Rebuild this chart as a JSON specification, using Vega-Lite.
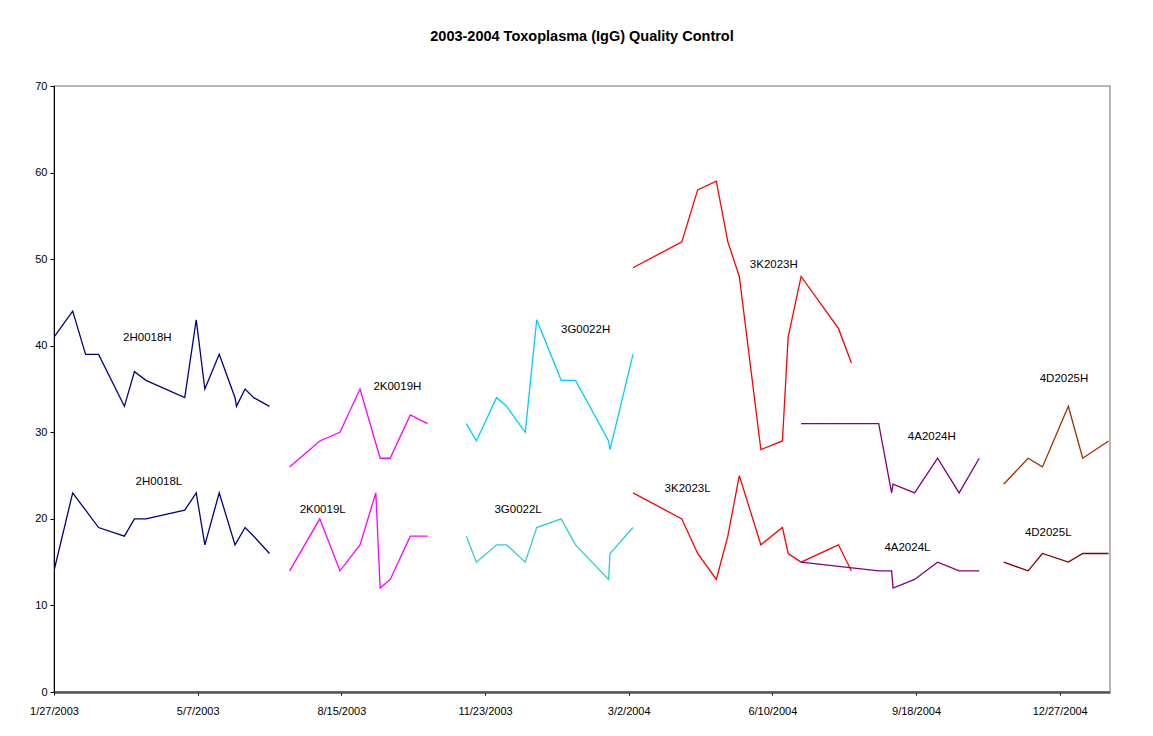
{
  "$schema": "https://vega.github.io/schema/vega-lite/v6.json",
  "width": 1056,
  "height": 606,
  "autosize": {"type": "none"},
  "padding": {"left": 54, "top": 86, "right": 43, "bottom": 44},
  "background": "white",
  "title": {
    "text": "2003-2004 Toxoplasma (IgG) Quality Control",
    "font": "Liberation Sans",
    "fontSize": 14.5,
    "fontWeight": "bold",
    "color": "black",
    "anchor": "middle",
    "offset": 36
  },
  "datasets": {
    "qc": [
      {"series": "2H0018H", "date": "2003-01-27", "value": 41},
      {"series": "2H0018H", "date": "2003-02-09", "value": 44},
      {"series": "2H0018H", "date": "2003-02-18", "value": 39},
      {"series": "2H0018H", "date": "2003-02-27", "value": 39},
      {"series": "2H0018H", "date": "2003-03-17", "value": 33},
      {"series": "2H0018H", "date": "2003-03-24", "value": 37},
      {"series": "2H0018H", "date": "2003-04-01", "value": 36},
      {"series": "2H0018H", "date": "2003-04-28", "value": 34},
      {"series": "2H0018H", "date": "2003-05-06", "value": 43},
      {"series": "2H0018H", "date": "2003-05-12", "value": 35},
      {"series": "2H0018H", "date": "2003-05-22", "value": 39},
      {"series": "2H0018H", "date": "2003-06-02", "value": 34},
      {"series": "2H0018H", "date": "2003-06-03", "value": 33},
      {"series": "2H0018H", "date": "2003-06-09", "value": 35},
      {"series": "2H0018H", "date": "2003-06-15", "value": 34},
      {"series": "2H0018H", "date": "2003-06-26", "value": 33},
      {"series": "2H0018L", "date": "2003-01-27", "value": 14},
      {"series": "2H0018L", "date": "2003-02-09", "value": 23},
      {"series": "2H0018L", "date": "2003-02-18", "value": 21},
      {"series": "2H0018L", "date": "2003-02-27", "value": 19},
      {"series": "2H0018L", "date": "2003-03-17", "value": 18},
      {"series": "2H0018L", "date": "2003-03-24", "value": 20},
      {"series": "2H0018L", "date": "2003-04-01", "value": 20},
      {"series": "2H0018L", "date": "2003-04-28", "value": 21},
      {"series": "2H0018L", "date": "2003-05-06", "value": 23},
      {"series": "2H0018L", "date": "2003-05-12", "value": 17},
      {"series": "2H0018L", "date": "2003-05-22", "value": 23},
      {"series": "2H0018L", "date": "2003-06-02", "value": 17},
      {"series": "2H0018L", "date": "2003-06-09", "value": 19},
      {"series": "2H0018L", "date": "2003-06-15", "value": 18},
      {"series": "2H0018L", "date": "2003-06-26", "value": 16},
      {"series": "2K0019H", "date": "2003-07-10", "value": 26},
      {"series": "2K0019H", "date": "2003-07-31", "value": 29},
      {"series": "2K0019H", "date": "2003-08-14", "value": 30},
      {"series": "2K0019H", "date": "2003-08-28", "value": 35},
      {"series": "2K0019H", "date": "2003-09-11", "value": 27},
      {"series": "2K0019H", "date": "2003-09-18", "value": 27},
      {"series": "2K0019H", "date": "2003-10-02", "value": 32},
      {"series": "2K0019H", "date": "2003-10-14", "value": 31},
      {"series": "2K0019L", "date": "2003-07-10", "value": 14},
      {"series": "2K0019L", "date": "2003-07-31", "value": 20},
      {"series": "2K0019L", "date": "2003-08-14", "value": 14},
      {"series": "2K0019L", "date": "2003-08-28", "value": 17},
      {"series": "2K0019L", "date": "2003-09-08", "value": 23},
      {"series": "2K0019L", "date": "2003-09-11", "value": 12},
      {"series": "2K0019L", "date": "2003-09-18", "value": 13},
      {"series": "2K0019L", "date": "2003-10-02", "value": 18},
      {"series": "2K0019L", "date": "2003-10-14", "value": 18},
      {"series": "3G0022H", "date": "2003-11-10", "value": 31},
      {"series": "3G0022H", "date": "2003-11-17", "value": 29},
      {"series": "3G0022H", "date": "2003-12-01", "value": 34},
      {"series": "3G0022H", "date": "2003-12-08", "value": 33},
      {"series": "3G0022H", "date": "2003-12-21", "value": 30},
      {"series": "3G0022H", "date": "2003-12-29", "value": 43},
      {"series": "3G0022H", "date": "2004-01-15", "value": 36},
      {"series": "3G0022H", "date": "2004-01-25", "value": 36},
      {"series": "3G0022H", "date": "2004-02-17", "value": 29},
      {"series": "3G0022H", "date": "2004-02-18", "value": 28},
      {"series": "3G0022H", "date": "2004-03-05", "value": 39},
      {"series": "3G0022L", "date": "2003-11-10", "value": 18},
      {"series": "3G0022L", "date": "2003-11-17", "value": 15},
      {"series": "3G0022L", "date": "2003-12-01", "value": 17},
      {"series": "3G0022L", "date": "2003-12-08", "value": 17},
      {"series": "3G0022L", "date": "2003-12-21", "value": 15},
      {"series": "3G0022L", "date": "2003-12-29", "value": 19},
      {"series": "3G0022L", "date": "2004-01-15", "value": 20},
      {"series": "3G0022L", "date": "2004-01-25", "value": 17},
      {"series": "3G0022L", "date": "2004-02-17", "value": 13},
      {"series": "3G0022L", "date": "2004-02-18", "value": 16},
      {"series": "3G0022L", "date": "2004-03-05", "value": 19},
      {"series": "3K2023H", "date": "2004-03-05", "value": 49},
      {"series": "3K2023H", "date": "2004-04-08", "value": 52},
      {"series": "3K2023H", "date": "2004-04-19", "value": 58},
      {"series": "3K2023H", "date": "2004-05-02", "value": 59},
      {"series": "3K2023H", "date": "2004-05-10", "value": 52},
      {"series": "3K2023H", "date": "2004-05-18", "value": 48},
      {"series": "3K2023H", "date": "2004-06-02", "value": 28},
      {"series": "3K2023H", "date": "2004-06-17", "value": 29},
      {"series": "3K2023H", "date": "2004-06-21", "value": 41},
      {"series": "3K2023H", "date": "2004-06-30", "value": 48},
      {"series": "3K2023H", "date": "2004-07-26", "value": 42},
      {"series": "3K2023H", "date": "2004-08-04", "value": 38},
      {"series": "3K2023L", "date": "2004-03-05", "value": 23},
      {"series": "3K2023L", "date": "2004-04-08", "value": 20},
      {"series": "3K2023L", "date": "2004-04-19", "value": 16},
      {"series": "3K2023L", "date": "2004-05-02", "value": 13},
      {"series": "3K2023L", "date": "2004-05-10", "value": 18},
      {"series": "3K2023L", "date": "2004-05-18", "value": 25},
      {"series": "3K2023L", "date": "2004-06-02", "value": 17},
      {"series": "3K2023L", "date": "2004-06-17", "value": 19},
      {"series": "3K2023L", "date": "2004-06-21", "value": 16},
      {"series": "3K2023L", "date": "2004-06-30", "value": 15},
      {"series": "3K2023L", "date": "2004-07-26", "value": 17},
      {"series": "3K2023L", "date": "2004-08-04", "value": 14},
      {"series": "4A2024H", "date": "2004-06-30", "value": 31},
      {"series": "4A2024H", "date": "2004-08-23", "value": 31},
      {"series": "4A2024H", "date": "2004-09-01", "value": 23},
      {"series": "4A2024H", "date": "2004-09-02", "value": 24},
      {"series": "4A2024H", "date": "2004-09-17", "value": 23},
      {"series": "4A2024H", "date": "2004-10-03", "value": 27},
      {"series": "4A2024H", "date": "2004-10-18", "value": 23},
      {"series": "4A2024H", "date": "2004-11-01", "value": 27},
      {"series": "4A2024L", "date": "2004-06-30", "value": 15},
      {"series": "4A2024L", "date": "2004-08-23", "value": 14},
      {"series": "4A2024L", "date": "2004-09-01", "value": 14},
      {"series": "4A2024L", "date": "2004-09-02", "value": 12},
      {"series": "4A2024L", "date": "2004-09-17", "value": 13},
      {"series": "4A2024L", "date": "2004-10-03", "value": 15},
      {"series": "4A2024L", "date": "2004-10-18", "value": 14},
      {"series": "4A2024L", "date": "2004-11-01", "value": 14},
      {"series": "4D2025H", "date": "2004-11-18", "value": 24},
      {"series": "4D2025H", "date": "2004-12-05", "value": 27},
      {"series": "4D2025H", "date": "2004-12-15", "value": 26},
      {"series": "4D2025H", "date": "2005-01-02", "value": 33},
      {"series": "4D2025H", "date": "2005-01-12", "value": 27},
      {"series": "4D2025H", "date": "2005-01-30", "value": 29},
      {"series": "4D2025L", "date": "2004-11-18", "value": 15},
      {"series": "4D2025L", "date": "2004-12-05", "value": 14},
      {"series": "4D2025L", "date": "2004-12-15", "value": 16},
      {"series": "4D2025L", "date": "2005-01-02", "value": 15},
      {"series": "4D2025L", "date": "2005-01-12", "value": 16},
      {"series": "4D2025L", "date": "2005-01-30", "value": 16}
    ],
    "labels": [
      {"series": "2H0018H", "date": "2003-04-02", "value": 40.9},
      {"series": "2H0018L", "date": "2003-04-10", "value": 24.2},
      {"series": "2K0019H", "date": "2003-09-23", "value": 35.2},
      {"series": "2K0019L", "date": "2003-08-02", "value": 21},
      {"series": "3G0022H", "date": "2004-02-01", "value": 41.8},
      {"series": "3G0022L", "date": "2003-12-16", "value": 21},
      {"series": "3K2023H", "date": "2004-06-11", "value": 49.3},
      {"series": "3K2023L", "date": "2004-04-12", "value": 23.4},
      {"series": "4A2024H", "date": "2004-09-29", "value": 29.4},
      {"series": "4A2024L", "date": "2004-09-12", "value": 16.6},
      {"series": "4D2025H", "date": "2004-12-30", "value": 36.2},
      {"series": "4D2025L", "date": "2004-12-19", "value": 18.4}
    ]
  },
  "encoding": {
    "x": {
      "field": "date",
      "type": "temporal",
      "scale": {
        "type": "utc",
        "domain": [
          {"year": 2003, "month": 1, "date": 27, "utc": true},
          {"year": 2005, "month": 1, "date": 31, "utc": true}
        ],
        "nice": false
      },
      "axis": {
        "title": null,
        "grid": false,
        "values": [
          {"year": 2003, "month": 1, "date": 27, "utc": true},
          {"year": 2003, "month": 5, "date": 7, "utc": true},
          {"year": 2003, "month": 8, "date": 15, "utc": true},
          {"year": 2003, "month": 11, "date": 23, "utc": true},
          {"year": 2004, "month": 3, "date": 2, "utc": true},
          {"year": 2004, "month": 6, "date": 10, "utc": true},
          {"year": 2004, "month": 9, "date": 18, "utc": true},
          {"year": 2004, "month": 12, "date": 27, "utc": true}
        ],
        "labelExpr": "utcFormat(datum.value, '%-m/%-d/%Y')",
        "labelFont": "Liberation Sans",
        "labelFontSize": 11,
        "labelColor": "black",
        "labelPadding": 10,
        "labelFlush": false,
        "labelOverlap": false,
        "domainColor": "#555555",
        "domainWidth": 2.5,
        "tickColor": "black",
        "tickSize": 3,
        "tickWidth": 1
      }
    },
    "y": {
      "field": "value",
      "type": "quantitative",
      "scale": {"domain": [0, 70], "nice": false},
      "axis": {
        "title": null,
        "grid": false,
        "values": [0, 10, 20, 30, 40, 50, 60, 70],
        "labelFont": "Liberation Sans",
        "labelFontSize": 11,
        "labelColor": "black",
        "labelPadding": 3,
        "domainColor": "black",
        "domainWidth": 1,
        "tickColor": "black",
        "tickSize": 4,
        "tickWidth": 1
      }
    }
  },
  "layer": [
    {
      "data": {"name": "qc"},
      "mark": {"type": "line", "strokeWidth": 1.3, "clip": true},
      "encoding": {
        "color": {
          "field": "series",
          "type": "nominal",
          "legend": null,
          "scale": {
            "domain": ["2H0018H", "2H0018L", "2K0019H", "2K0019L", "3G0022H", "3G0022L", "3K2023H", "3K2023L", "4A2024H", "4A2024L", "4D2025H", "4D2025L"],
            "range": ["#000080", "#000080", "#FF00FF", "#FF00FF", "#00CCFF", "#33CCCC", "#FF0000", "#FF0000", "#800080", "#800080", "#993300", "#800000"]
          }
        }
      }
    },
    {
      "data": {"name": "labels"},
      "mark": {"type": "text", "font": "Liberation Sans", "fontSize": 11.5, "color": "black", "align": "center", "baseline": "middle"},
      "encoding": {
        "text": {"field": "series", "type": "nominal"}
      }
    }
  ],
  "config": {
    "view": {"stroke": "#a0a0a0", "strokeWidth": 1.5}
  }
}
